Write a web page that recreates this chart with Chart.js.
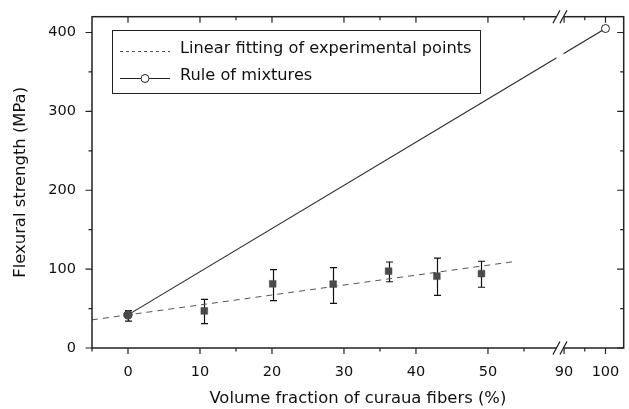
<!DOCTYPE html>
<html><head><meta charset="utf-8">
<script src="https://cdn.jsdelivr.net/npm/chart.js@4"></script>
<style>html,body{margin:0;padding:0;background:#fff;}#wrap{width:629px;height:409px;}</style>
</head><body><div id="wrap"><canvas id="c" width="629" height="409"></canvas></div>
<script>
// ---- data ----
const fiberFraction = [0, 10.6, 20.1, 28.5, 36.2, 42.9, 49.1];
const flexuralStrength = [42, 47, 81.4, 81, 97.4, 91, 94.4];
const errorLow = [34, 31, 60, 56.6, 84, 66.7, 77];
const errorHigh = [47.5, 61.6, 99.4, 102, 109, 114, 110];
const fitX = [-5, 54];
const fitY = [35.7, 110];
const mixturesX = [0, 100];
const mixturesY = [42, 405];
const xMajorTicks = [0, 10, 20, 30, 40, 50, 90, 100];
const xMinorTicks = [15, 35, 55, 95];
const yMajorTicks = [0, 100, 200, 300, 400];
const yMinorTicks = [50, 150, 250, 350];
const legendLabels = ['Linear fitting of experimental points', 'Rule of mixtures'];
const xTitle = 'Volume fraction of curaua fibers (%)';
const yTitle = 'Flexural strength (MPa)';

// ---- broken x axis mapping ----
const BREAK_LO = 60, BREAK_HI = 89, RIGHT_RATIO = 0.575, X_MIN = -5, X_MAX = 104.4;
function toAxis(v) { return v <= BREAK_LO ? v : BREAK_LO + (v - BREAK_HI) * RIGHT_RATIO; }
function fromAxis(u) { return u <= BREAK_LO ? u : BREAK_HI + (u - BREAK_LO) / RIGHT_RATIO; }

const FONT = '"DejaVu Sans", "Liberation Sans", Arial, sans-serif';
Chart.defaults.font.family = FONT;
Chart.defaults.font.size = 14.5;
Chart.defaults.color = '#111';

const AXIS = '#222';
const decor = {
  id: 'decor',
  beforeDatasetsDraw(chart) {
    const { ctx, scales: { x, y } } = chart;
    ctx.save();
    ctx.strokeStyle = '#111';
    ctx.lineWidth = 1.2;
    for (let i = 0; i < fiberFraction.length; i++) {
      const px = Math.round(x.getPixelForValue(toAxis(fiberFraction[i]))) + 0.5;
      const yl = y.getPixelForValue(errorLow[i]);
      const yh = y.getPixelForValue(errorHigh[i]);
      ctx.beginPath();
      ctx.moveTo(px, yl); ctx.lineTo(px, yh);
      ctx.moveTo(px - 3.5, yl); ctx.lineTo(px + 3.5, yl);
      ctx.moveTo(px - 3.5, yh); ctx.lineTo(px + 3.5, yh);
      ctx.stroke();
    }
    ctx.restore();
  },
  afterDatasetsDraw(chart) {
    const { ctx, chartArea: a, scales: { x, y } } = chart;
    ctx.save();
    // frame
    ctx.strokeStyle = AXIS;
    ctx.lineWidth = 1.5;
    ctx.strokeRect(a.left, a.top, a.right - a.left, a.bottom - a.top);
    // break white-out
    const bx = x.getPixelForValue(BREAK_LO);
    ctx.fillStyle = '#fff';
    ctx.fillRect(bx - 3.5, a.top - 2, 7, a.bottom - a.top + 4);
    // ticks
    ctx.lineWidth = 1.2;
    ctx.beginPath();
    const tickX = (v, len) => {
      const px = x.getPixelForValue(toAxis(v));
      ctx.moveTo(px, a.bottom); ctx.lineTo(px, a.bottom + len);
      ctx.moveTo(px, a.top); ctx.lineTo(px, a.top + len);
    };
    const tickY = (v, len) => {
      const py = y.getPixelForValue(v);
      ctx.moveTo(a.left, py); ctx.lineTo(a.left - len, py);
      ctx.moveTo(a.right, py); ctx.lineTo(a.right - len, py);
    };
    xMajorTicks.forEach(v => tickX(v, 6));
    xMinorTicks.forEach(v => tickX(v, 3.5));
    yMajorTicks.forEach(v => tickY(v, 6.5));
    yMinorTicks.forEach(v => tickY(v, 3.5));
    ctx.moveTo(a.left, a.bottom); ctx.lineTo(a.left, a.bottom + 3.5);
    ctx.stroke();
    // break slashes
    ctx.lineWidth = 1.3;
    ctx.beginPath();
    [a.top, a.bottom].forEach(yy => {
      [-3.5, 3.5].forEach(off => {
        ctx.moveTo(bx + off - 3.5, yy + 6.5);
        ctx.lineTo(bx + off + 3.5, yy - 6.5);
      });
    });
    ctx.stroke();
    // legend
    ctx.lineWidth = 1;
    ctx.strokeStyle = AXIS;
    ctx.fillStyle = '#fff';
    ctx.fillRect(112.5, 30.5, 368, 63);
    ctx.strokeRect(112.5, 30.5, 368, 63);
    ctx.strokeStyle = '#555';
    ctx.setLineDash([3, 3]);
    ctx.beginPath(); ctx.moveTo(120, 51.5); ctx.lineTo(170, 51.5); ctx.stroke();
    ctx.setLineDash([]);
    ctx.strokeStyle = '#222';
    ctx.beginPath(); ctx.moveTo(120, 78.5); ctx.lineTo(170, 78.5); ctx.stroke();
    ctx.beginPath(); ctx.arc(145, 78.5, 4, 0, Math.PI * 2); ctx.fillStyle = '#fff'; ctx.fill(); ctx.stroke();
    ctx.fillStyle = '#111';
    ctx.font = '16.2px ' + FONT;
    ctx.textBaseline = 'middle';
    ctx.textAlign = 'left';
    ctx.fillText(legendLabels[0], 180, 49);
    ctx.fillText(legendLabels[1], 180, 75.5);
    ctx.restore();
  }
};

new Chart(document.getElementById('c'), {
  type: 'scatter',
  data: {
    datasets: [
      {
        label: 'Experimental',
        data: fiberFraction.map((v, i) => ({ x: toAxis(v), y: flexuralStrength[i] })),
        showLine: false,
        pointStyle: fiberFraction.map((v, i) => i === 0 ? 'circle' : 'rect'),
        pointRadius: fiberFraction.map((v, i) => i === 0 ? 4.3 : 4.8),
        backgroundColor: '#4a4a4a',
        borderColor: '#4a4a4a',
        borderWidth: 0.5,
        order: 0
      },
      {
        label: legendLabels[1],
        data: mixturesX.map((v, i) => ({ x: toAxis(v), y: mixturesY[i] })),
        showLine: true,
        borderColor: '#222',
        borderWidth: 1.1,
        pointRadius: 4,
        pointBackgroundColor: '#fff',
        pointBorderColor: '#222',
        pointBorderWidth: 1,
        order: 1
      },
      {
        label: legendLabels[0],
        data: fitX.map((v, i) => ({ x: toAxis(v), y: fitY[i] })),
        showLine: true,
        borderColor: '#555',
        borderWidth: 1,
        borderDash: [6, 5],
        pointRadius: 0,
        order: 2
      }
    ]
  },
  options: {
    responsive: false,
    animation: false,
    devicePixelRatio: 1,
    layout: { padding: { top: 14, right: 3, left: 0, bottom: 0 } },
    plugins: { legend: { display: false }, tooltip: { enabled: false } },
    scales: {
      x: {
        type: 'linear',
        min: toAxis(X_MIN),
        max: toAxis(X_MAX),
        afterBuildTicks: s => {
          s.ticks = xMajorTicks.concat(xMinorTicks).map(toAxis).sort((p, q) => p - q).map(v => ({ value: v }));
        },
        afterFit: s => { s.height = 61; },
        grid: { display: false },
        border: { display: false },
        ticks: {
          autoSkip: false, maxRotation: 0, padding: 8,
          callback: v => {
            const r = fromAxis(v);
            const n = Math.round(r);
            return (Math.abs(r - n) < 1e-6 && xMajorTicks.includes(n)) ? String(n) : '';
          }
        },
        title: { display: true, text: xTitle, font: { size: 16.4 }, padding: { top: 0, bottom: 0.5 } }
      },
      y: {
        type: 'linear',
        min: 0,
        max: 420,
        afterBuildTicks: s => {
          s.ticks = yMajorTicks.concat(yMinorTicks).sort((p, q) => p - q).map(v => ({ value: v }));
        },
        afterFit: s => { s.width = 92; },
        grid: { display: false },
        border: { display: false },
        ticks: {
          autoSkip: false, padding: 8,
          callback: v => yMajorTicks.includes(v) ? String(v) : ''
        },
        title: { display: true, text: yTitle, font: { size: 16.4 }, padding: { top: 10.5, bottom: 0 } }
      }
    }
  },
  plugins: [decor]
});
</script>
</body></html>
